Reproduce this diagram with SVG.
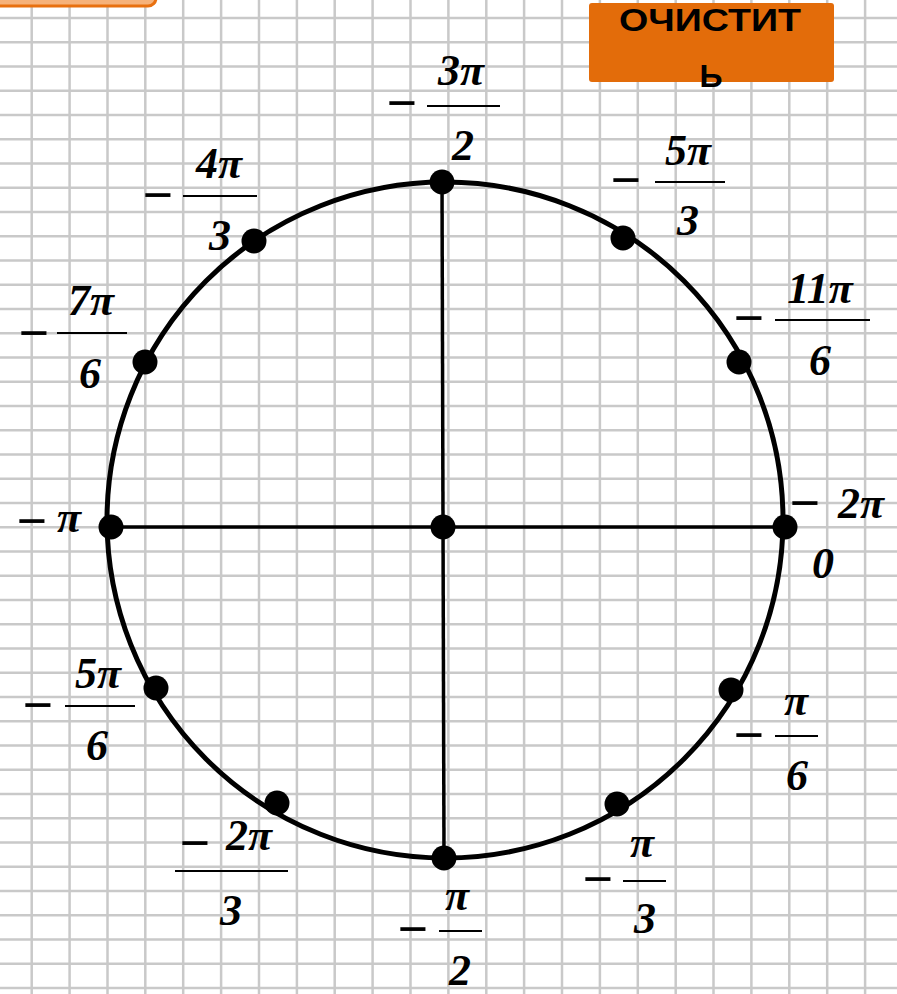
<svg xmlns="http://www.w3.org/2000/svg" width="897" height="994" viewBox="0 0 897 994">
<style>
.grid{stroke:#c9c9c9;stroke-width:2.5;fill:none}
.ax{stroke:#000;stroke-width:3.5;fill:none}
.circ{stroke:#000;stroke-width:5;fill:none}
.dot{fill:#000}
.m{font-family:"Liberation Serif","Times New Roman",serif;font-weight:bold;font-size:44px;font-style:italic;fill:#000}
.mn{font-family:"Liberation Serif","Times New Roman",serif;font-weight:bold;font-size:54px;fill:#000}
.bar{stroke:#000;stroke-width:2}
.btn{font-family:"Liberation Sans",Arial,sans-serif;font-weight:bold;font-size:32px;fill:#000}
</style>
<rect width="897" height="994" fill="#fff"/>
<g id="grid">
<path class="grid" d="M31.7 0V994M69.6 0V994M107.5 0V994M145.3 0V994M183.2 0V994M221.1 0V994M259 0V994M296.9 0V994M334.7 0V994M372.6 0V994M410.5 0V994M448.4 0V994M486.3 0V994M524.1 0V994M562 0V994M599.9 0V994M637.8 0V994M675.7 0V994M713.5 0V994M751.4 0V994M789.3 0V994M827.2 0V994M865.1 0V994
M0 18H897M0 42.25H897M0 66.5H897M0 90.75H897M0 115H897M0 139.25H897M0 163.5H897M0 187.75H897M0 212H897M0 236.25H897M0 260.5H897M0 284.75H897M0 309H897M0 333.25H897M0 357.5H897M0 381.75H897M0 406H897M0 430.25H897M0 454.5H897M0 478.75H897M0 503H897M0 527.25H897M0 551.5H897M0 575.75H897M0 600H897M0 624.25H897M0 648.5H897M0 672.75H897M0 697H897M0 721.25H897M0 745.5H897M0 769.75H897M0 794H897M0 818.25H897M0 842.5H897M0 866.75H897M0 891H897M0 915.25H897M0 939.5H897M0 963.75H897M0 988H897"/>
</g>
<g id="btn-left">
<rect x="-20" y="-25" width="176" height="31" rx="8" fill="#f6b27a" stroke="#e8700f" stroke-width="3"/>
</g>
<g id="btn-clear">
<rect x="589" y="3" width="245" height="79" rx="3" fill="#e36c0a"/>
<text class="btn" x="710" y="31" text-anchor="middle" textLength="182" lengthAdjust="spacingAndGlyphs">ОЧИСТИТ</text>
<text class="btn" x="711" y="87" text-anchor="middle">Ь</text>
</g>
<g id="connectors">
<circle class="circ" cx="445" cy="520" r="338"/>
<line class="ax" x1="111" y1="527" x2="785" y2="527"/>
<line class="ax" x1="442" y1="182" x2="444" y2="858"/>
</g>
<g id="points">
<circle class="dot" cx="443" cy="527" r="12.5"/>
<circle class="dot" cx="442" cy="182" r="12.5"/>
<circle class="dot" cx="444" cy="858" r="12.5"/>
<circle class="dot" cx="111" cy="527" r="12.5"/>
<circle class="dot" cx="785" cy="527" r="12.5"/>
<circle class="dot" cx="254" cy="241" r="12.5"/>
<circle class="dot" cx="623" cy="238" r="12.5"/>
<circle class="dot" cx="739" cy="362" r="12.5"/>
<circle class="dot" cx="145" cy="362" r="12.5"/>
<circle class="dot" cx="156" cy="688" r="12.5"/>
<circle class="dot" cx="731" cy="690" r="12.5"/>
<circle class="dot" cx="277" cy="803" r="12.5"/>
<circle class="dot" cx="617" cy="804" r="12.5"/>
</g>
<g id="lbl-3pi2">
<text class="mn" x="402" y="121" text-anchor="middle">−</text>
<text class="m" x="461" y="85" text-anchor="middle">3π</text>
<line class="bar" x1="427" y1="106" x2="500" y2="106"/>
<text class="m" x="463" y="160" text-anchor="middle">2</text>
</g>
<g id="lbl-5pi3">
<text class="mn" x="626" y="198" text-anchor="middle">−</text>
<text class="m" x="688" y="165" text-anchor="middle">5π</text>
<line class="bar" x1="655" y1="182" x2="725" y2="182"/>
<text class="m" x="688" y="235" text-anchor="middle">3</text>
</g>
<g id="lbl-11pi6">
<text class="mn" x="749" y="336" text-anchor="middle">−</text>
<text class="m" x="820" y="303" text-anchor="middle">11π</text>
<line class="bar" x1="775" y1="320" x2="870" y2="320"/>
<text class="m" x="820" y="375" text-anchor="middle">6</text>
</g>
<g id="lbl-2pi">
<text class="mn" x="805" y="521" text-anchor="middle">−</text>
<text class="m" x="861" y="518" text-anchor="middle">2π</text>
<text class="m" x="823" y="578" text-anchor="middle">0</text>
</g>
<g id="lbl-pi">
<text class="mn" x="32" y="539" text-anchor="middle">−</text>
<text class="m" x="69" y="532" text-anchor="middle">π</text>
</g>
<g id="lbl-pi6">
<text class="mn" x="749" y="753" text-anchor="middle">−</text>
<text class="m" x="796" y="715" text-anchor="middle">π</text>
<line class="bar" x1="775" y1="736" x2="818" y2="736"/>
<text class="m" x="797" y="790" text-anchor="middle">6</text>
</g>
<g id="lbl-pi3">
<text class="mn" x="598" y="897" text-anchor="middle">−</text>
<text class="m" x="642" y="857" text-anchor="middle">π</text>
<line class="bar" x1="623" y1="881" x2="666" y2="881"/>
<text class="m" x="645" y="933" text-anchor="middle">3</text>
</g>
<g id="lbl-pi2">
<text class="mn" x="413" y="947" text-anchor="middle">−</text>
<text class="m" x="457" y="910" text-anchor="middle">π</text>
<line class="bar" x1="439" y1="931" x2="482" y2="931"/>
<text class="m" x="460" y="985" text-anchor="middle">2</text>
</g>
<g id="lbl-2pi3">
<text class="mn" x="195" y="861" text-anchor="middle">−</text>
<text class="m" x="249" y="850" text-anchor="middle">2π</text>
<line class="bar" x1="175" y1="871" x2="288" y2="871"/>
<text class="m" x="231" y="925" text-anchor="middle">3</text>
</g>
<g id="lbl-5pi6">
<text class="mn" x="38" y="723" text-anchor="middle">−</text>
<text class="m" x="98" y="688" text-anchor="middle">5π</text>
<line class="bar" x1="65" y1="706" x2="135" y2="706"/>
<text class="m" x="97" y="760" text-anchor="middle">6</text>
</g>
<g id="lbl-7pi6">
<text class="mn" x="34" y="351" text-anchor="middle">−</text>
<text class="m" x="91" y="315" text-anchor="middle">7π</text>
<line class="bar" x1="57" y1="333" x2="127" y2="333"/>
<text class="m" x="90" y="388" text-anchor="middle">6</text>
</g>
<g id="lbl-4pi3">
<text class="mn" x="158" y="213" text-anchor="middle">−</text>
<text class="m" x="219" y="178" text-anchor="middle">4π</text>
<line class="bar" x1="183" y1="196" x2="257" y2="196"/>
<text class="m" x="220" y="250" text-anchor="middle">3</text>
</g>
</svg>
